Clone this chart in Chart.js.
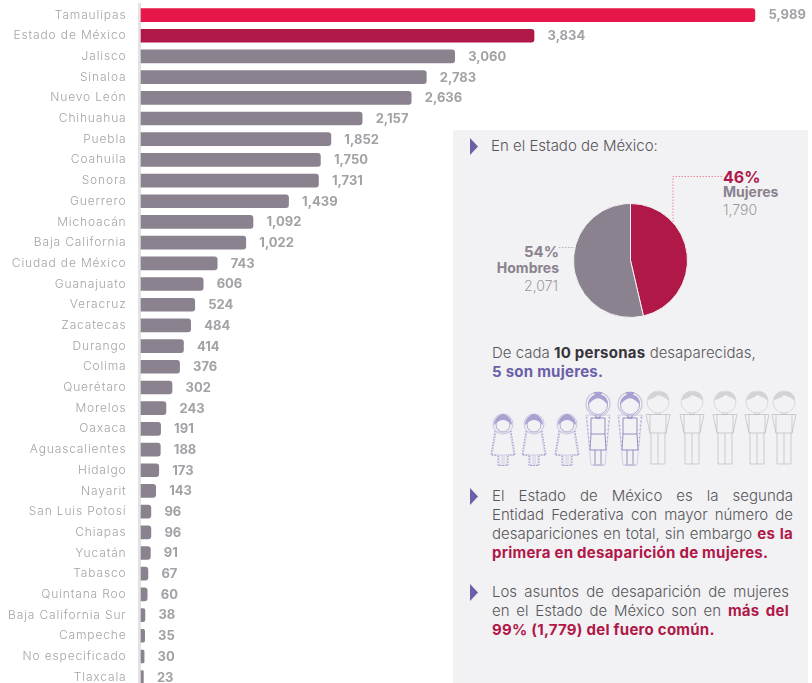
<!DOCTYPE html>
<html lang="es"><head><meta charset="utf-8">
<script src="https://cdn.jsdelivr.net/npm/chart.js@4"></script>
<style>
html,body{margin:0;padding:0;background:#fff;width:812px;height:683px;overflow:hidden;font-family:Inter,sans-serif}
#bars{position:absolute;left:0;top:0}
#panel{position:absolute;left:453px;top:130px;width:355px;height:553px;background:#f2f2f4}
#pie{position:absolute;left:570px;top:200px}
.t{position:absolute;white-space:nowrap;line-height:18px;font-size:15px;color:#58565a;font-weight:300}
.j{text-align:justify;text-align-last:justify;white-space:normal}
.r{text-align:right}
b{letter-spacing:.25px}
b.c{color:#b01848;font-weight:700} b.p{color:#6b5fa8;font-weight:700} b.k{color:#36343a;font-weight:700}
svg{position:absolute;left:0;top:0}
</style></head><body>
<canvas id="bars" width="812" height="700"></canvas>
<div id="panel"></div>
<svg id="art" width="812" height="683" viewBox="0 0 812 683"></svg>
<canvas id="pie" width="121" height="121"></canvas>
<div id="texts"></div>
<script>
const categories=["Tamaulipas","Estado de México","Jalisco","Sinaloa","Nuevo León","Chihuahua","Puebla","Coahuila","Sonora","Guerrero","Michoacán","Baja California","Ciudad de México","Guanajuato","Veracruz","Zacatecas","Durango","Colima","Querétaro","Morelos","Oaxaca","Aguascalientes","Hidalgo","Nayarit","San Luis Potosí","Chiapas","Yucatán","Tabasco","Quintana Roo","Baja California Sur","Campeche","No especificado","Tlaxcala"];
const values=[5989,3834,3060,2783,2636,2157,1852,1750,1731,1439,1092,1022,743,606,524,484,414,376,302,243,191,188,173,143,96,96,91,67,60,38,35,30,23];
const barColors=values.map((v,i)=>i===0?"#e8174a":i===1?"#b01848":"#8a828e");
const pieLabels=["Mujeres","Hombres"];
const pieValues=[1790,2071];
const piePercents=[46,54];
const pieColors=["#b01848","#8a828e"];
const fmt=n=>n.toLocaleString("en-US");

const valueLabels={id:"valueLabels",
  beforeDraw(c){c.ctx.letterSpacing="0.85px";},
  afterDatasetsDraw(c){
    const ctx=c.ctx,meta=c.getDatasetMeta(0);
    ctx.save();ctx.letterSpacing="0px";ctx.font="700 13px Inter";ctx.fillStyle="#a3a1a5";
    ctx.textAlign="left";ctx.textBaseline="middle";
    meta.data.forEach((el,i)=>ctx.fillText(fmt(values[i]),el.x+13.5,el.y+0.5));
    ctx.restore();ctx.letterSpacing="0px";
  }};
new Chart(document.getElementById("bars"),{type:"bar",
  data:{labels:categories,datasets:[{data:values,backgroundColor:barColors,barThickness:13,
    borderRadius:{topLeft:0,bottomLeft:0,topRight:3,bottomRight:3},borderSkipped:false}]},
  plugins:[valueLabels],
  options:{indexAxis:"y",responsive:false,animation:false,
    layout:{autoPadding:false,padding:{top:4.7,bottom:12.5,left:0,right:0}},
    plugins:{legend:{display:false},tooltip:{enabled:false}},
    scales:{
      x:{display:false,min:-15,max:6546},
      y:{afterFit(s){s.width=139.5;s.paddingTop=0;s.paddingBottom=0;},
        grid:{display:false,drawTicks:false},
        border:{display:true,color:"#e3e3e3",width:3},
        ticks:{autoSkip:false,padding:13,color:"#a5a3a7",font:{family:"Inter",size:12,weight:"300"}}}
    }}});

new Chart(document.getElementById("pie"),{type:"pie",
  data:{labels:pieLabels,datasets:[{data:pieValues,backgroundColor:pieColors,borderColor:"#f2f2f4",borderWidth:1}]},
  options:{responsive:false,animation:false,layout:{padding:3},plugins:{legend:{display:false},tooltip:{enabled:false}}}});

const NS="http://www.w3.org/2000/svg",art=document.getElementById("art");
function el(n,a,p){const e=document.createElementNS(NS,n);for(const k in a)e.setAttribute(k,a[k]);(p||art).appendChild(e);return e;}
function tri(y){el("path",{d:`M470 ${y}L478 ${y+8.5}L470 ${y+17}Z`,fill:"#6b5fa8"});}
[138,488,584].forEach(tri);
el("path",{d:"M673 222V176.5H723",fill:"none",stroke:"#ee8a9c","stroke-width":1,"stroke-dasharray":"1.5 1.5"});
el("path",{d:"M559 247.5H575",fill:"none",stroke:"#b5b2b8","stroke-width":1,"stroke-dasharray":"1.5 1.5"});

function group(cx){return el("g",{transform:`translate(${cx} 0)`,fill:"none","stroke-linejoin":"round"});}
function man(cx){const g=group(cx),s="#bcb9be";
  el("circle",{cx:0,cy:402,r:11,stroke:"#cfccd1","stroke-width":.7},g);
  el("path",{d:"M-10 400C-10 394-5 391 0 392C6 390 11 394 11 401C7 397 2 396 0 395C-3 398-7 399-10 400Z",fill:"#d5d2d6"},g);
  el("path",{d:"M-2 413V414.5H2V413M-8 414.5H8V433H-8ZM-8 414.5H-12L-8 433M8 414.5H12L8 433M-7 433V464H7V433M0 433V464",stroke:s,"stroke-width":.7},g);}
function woman(cx){const g=group(cx),s="#7f75b8",p="#c9c4df";
  el("circle",{cx:0,cy:404,r:12,stroke:p,"stroke-width":1.2},g);
  el("circle",{cx:0,cy:405,r:9.5,stroke:s,"stroke-width":.6},g);
  el("path",{d:"M-10 405C-10 398-5 395-3 395C-6 391-3 392 0 392C3 392 6 391 3 395C6 395 10 398 10 405C6 400 3 399 0 398C-3 399-6 400-10 405Z",fill:"#a8a1d2"},g);
  el("path",{d:"M-2 415V418H2V415M-7 418H7V434L8 450H-8L-7 434ZM-7 434H7M-3 450V464M3 450V464M-5 465H5",stroke:s,"stroke-width":.8},g);
  el("path",{d:"M-12 415H12L7 465H-7Z",stroke:p,"stroke-width":.8},g);
  el("path",{d:"M-11 417L-8 452M11 417L8 452",stroke:s,"stroke-width":.8,"stroke-dasharray":"1 3"},g);}
function girl(cx){const g=group(cx),s="#7f75b8",p="#c9c4df";
  el("circle",{cx:0,cy:424,r:10,stroke:p,"stroke-width":1},g);
  el("circle",{cx:0,cy:425,r:7,stroke:s,"stroke-width":.6},g);
  el("path",{d:"M-9 425C-9 418-3 414 0 414C3 414 9 418 9 425C5 421 2 420 0 420C-2 420-5 421-9 425Z",fill:"#a8a1d2"},g);
  el("path",{d:"M-7 432H7L11 455H-11ZM-4 455V465M4 455V465M-4 465H4M-1 455V464M1 455V464",stroke:p,"stroke-width":.8},g);
  el("path",{d:"M-8 431L-12 455H-5M8 431L12 455H5M-5 456V465.5H5V456",stroke:s,"stroke-width":.9,"stroke-dasharray":"1.2 1.6"},g);}
[503,534,567].forEach(girl);[598,630].forEach(woman);[658,692,725,757,784].forEach(man);

const host=document.getElementById("texts");
function t(html,x,yc,o={}){const d=document.createElement("div");d.className="t"+(o.j?" j":"")+(o.r?" r":"");d.innerHTML=html;
  d.style.top=(yc-9)+"px";
  if(o.r)d.style.right=(812-x)+"px";else d.style.left=x+"px";
  if(o.w)d.style.width=o.w+"px";if(o.size)d.style.fontSize=o.size+"px";if(o.color)d.style.color=o.color;if(o.weight)d.style.fontWeight=o.weight;
  host.appendChild(d);}
t("En el Estado de México:",491,146);
t("De cada <b class='k'>10 personas</b> desaparecidas,",492,353);
t("<b class='p'>5 son mujeres.</b>",492,372);
t("El Estado de México es la segunda",492,496,{j:1,w:301});
t("Entidad Federativa con mayor número de",492,515,{j:1,w:301});
t("desapariciones en total, sin embargo <b class='c'>es la</b>",492,534,{j:1,w:301});
t("<b class='c'>primera en desaparición de mujeres.</b>",492,553);
t("Los asuntos de desaparición de mujeres",492,592,{j:1,w:297});
t("en el Estado de México son en <b class='c'>más del</b>",492,611,{j:1,w:297});
t("<b class='c'>99% (1,779) del fuero común.</b>",492,630);
t(piePercents[0]+"%",723,177,{size:16,weight:700,color:"#b01848"});
t(pieLabels[0],723,192,{size:14,weight:700,color:"#8a828e"});
t(fmt(pieValues[0]),723,210,{size:14,color:"#9c9a9e"});
t(piePercents[1]+"%",559,252,{r:1,size:15,weight:700,color:"#8a828e"});
t(pieLabels[1],559,268,{r:1,size:14,weight:700,color:"#8a828e"});
t(fmt(pieValues[1]),558,286,{r:1,size:14,color:"#9c9a9e"});
</script>
</body></html>
